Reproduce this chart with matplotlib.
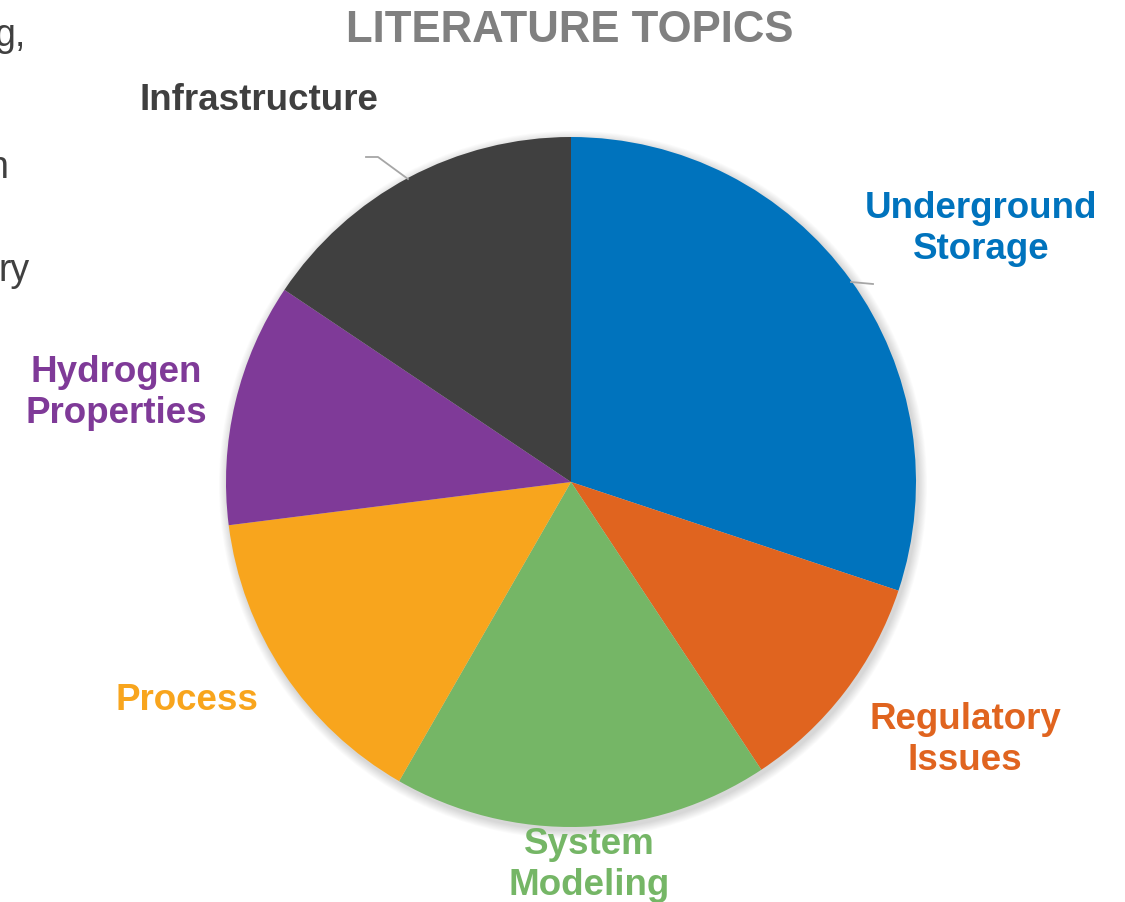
import matplotlib.pyplot as plt
from matplotlib.patches import Circle

# topic shares (percent of reviewed literature), clockwise from 12 o'clock
topics = ['Underground\nStorage', 'Regulatory\nIssues', 'System\nModeling',
          'Process', 'Hydrogen\nProperties', 'Infrastructure']
shares = [30.1, 10.6, 17.6, 14.7, 11.4, 15.6]
colors = ['#0073BD', '#E0641F', '#75B666', '#F8A51D', '#7F3A98', '#404040']
label_colors = ['#0073BD', '#E0641F', '#75B666', '#F8A51D', '#7F3A98', '#3F3F3F']

W, H = 1125, 902
fig = plt.figure(figsize=(W / 100, H / 100), dpi=100)
ax = fig.add_axes([0, 0, 1, 1])
ax.set_xlim(0, W)
ax.set_ylim(0, H)
ax.set_aspect('equal')
ax.axis('off')

font = 'Liberation Sans'
cx, cy, r = 571, H - 482, 345

# soft drop shadow behind the pie
for i in range(10):
    ax.add_patch(Circle((cx + 2, cy - 3), r + 1 + i * 0.9, color='black',
                        alpha=0.015, lw=0, zorder=0))

ax.pie(shares, colors=colors, startangle=90, counterclock=False,
       center=(cx, cy), radius=r, frame=True,
       wedgeprops=dict(linewidth=0))
ax.set_xlim(0, W)
ax.set_ylim(0, H)
ax.axis('off')

# label positions (pixel centres, y measured from top)
label_pos = [(981, 229), (965, 740), (589, 865), (187, 700), (116, 393), (259, 101)]
for txt, (x, y), c in zip(topics, label_pos, label_colors):
    ax.text(x, H - y, txt, ha='center', va='center', fontsize=26.5,
            fontweight='bold', color=c, family=font, linespacing=1.2)

# leader lines
ax.plot([366, 378, 408], [H - 157, H - 157, H - 179], color='#A6A6A6', lw=1.3)
ax.plot([851, 873], [H - 282, H - 284], color='#A6A6A6', lw=1.3)

fig.text(570 / W, 1 - 31 / H, 'LITERATURE TOPICS', ha='center', va='center',
         fontsize=31.5, fontweight='bold', color='#808080', family=font)

# slide text cut off at the left edge
for s, x, y in [('g,', 26, 36), ('n', 8, 168), ('ry', 30, 271)]:
    fig.text(x / W, 1 - y / H, s, ha='right', va='center', fontsize=27,
             color='#404040', family=font)

fig.savefig('out.png', dpi=100)
